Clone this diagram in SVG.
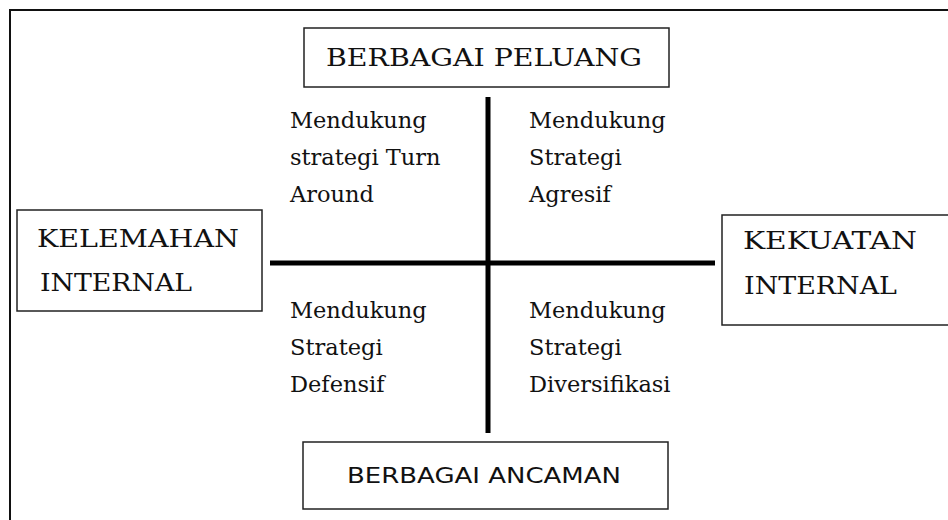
<svg xmlns="http://www.w3.org/2000/svg" width="948" height="520" viewBox="0 0 948 520">
  <style>
    .box { fill: #ffffff; stroke: #222222; stroke-width: 1.5; }
    .serif { font-family: "DejaVu Serif", "Liberation Serif", serif; fill: #111111; }
    .big { font-size: 25px; }
    .quad { font-size: 22.5px; }
    .sans { font-family: "DejaVu Sans", "Liberation Sans", sans-serif; font-size: 22px; fill: #111111; }
    .axis { stroke: #000000; stroke-width: 5; fill: none; }
  </style>
  <rect width="948" height="520" fill="#ffffff"/>
  <path d="M10,520 V10 H948" fill="none" stroke="#111111" stroke-width="2"/>

  <g id="connectors">
    <line class="axis" x1="270" y1="263" x2="715" y2="263"/>
    <line class="axis" x1="488" y1="97" x2="488" y2="433"/>
  </g>

  <g id="peluang">
    <rect class="box" x="304" y="28" width="365" height="59"/>
    <text class="serif big" x="326" y="66" textLength="316" lengthAdjust="spacingAndGlyphs">BERBAGAI PELUANG</text>
  </g>

  <g id="kelemahan">
    <rect class="box" x="17" y="210" width="245" height="101"/>
    <text class="serif big" x="37" y="247" textLength="202" lengthAdjust="spacingAndGlyphs">KELEMAHAN</text>
    <text class="serif big" x="40" y="291" textLength="152" lengthAdjust="spacingAndGlyphs">INTERNAL</text>
  </g>

  <g id="kekuatan">
    <rect class="box" x="722" y="215" width="240" height="110"/>
    <text class="serif big" x="743" y="249" textLength="174" lengthAdjust="spacingAndGlyphs">KEKUATAN</text>
    <text class="serif big" x="744" y="294" textLength="153" lengthAdjust="spacingAndGlyphs">INTERNAL</text>
  </g>

  <g id="ancaman">
    <rect class="box" x="303" y="442" width="365" height="67"/>
    <text class="sans" x="347" y="483" textLength="274" lengthAdjust="spacingAndGlyphs">BERBAGAI ANCAMAN</text>
  </g>

  <g id="turnaround">
    <text class="serif quad" x="290" y="128">Mendukung</text>
    <text class="serif quad" x="290" y="165">strategi Turn</text>
    <text class="serif quad" x="290" y="202">Around</text>
  </g>

  <g id="agresif">
    <text class="serif quad" x="529" y="128">Mendukung</text>
    <text class="serif quad" x="529" y="165">Strategi</text>
    <text class="serif quad" x="529" y="202">Agresif</text>
  </g>

  <g id="defensif">
    <text class="serif quad" x="290" y="318">Mendukung</text>
    <text class="serif quad" x="290" y="355">Strategi</text>
    <text class="serif quad" x="290" y="392">Defensif</text>
  </g>

  <g id="diversifikasi">
    <text class="serif quad" x="529" y="318">Mendukung</text>
    <text class="serif quad" x="529" y="355">Strategi</text>
    <text class="serif quad" x="529" y="392">Diversifikasi</text>
  </g>
</svg>
